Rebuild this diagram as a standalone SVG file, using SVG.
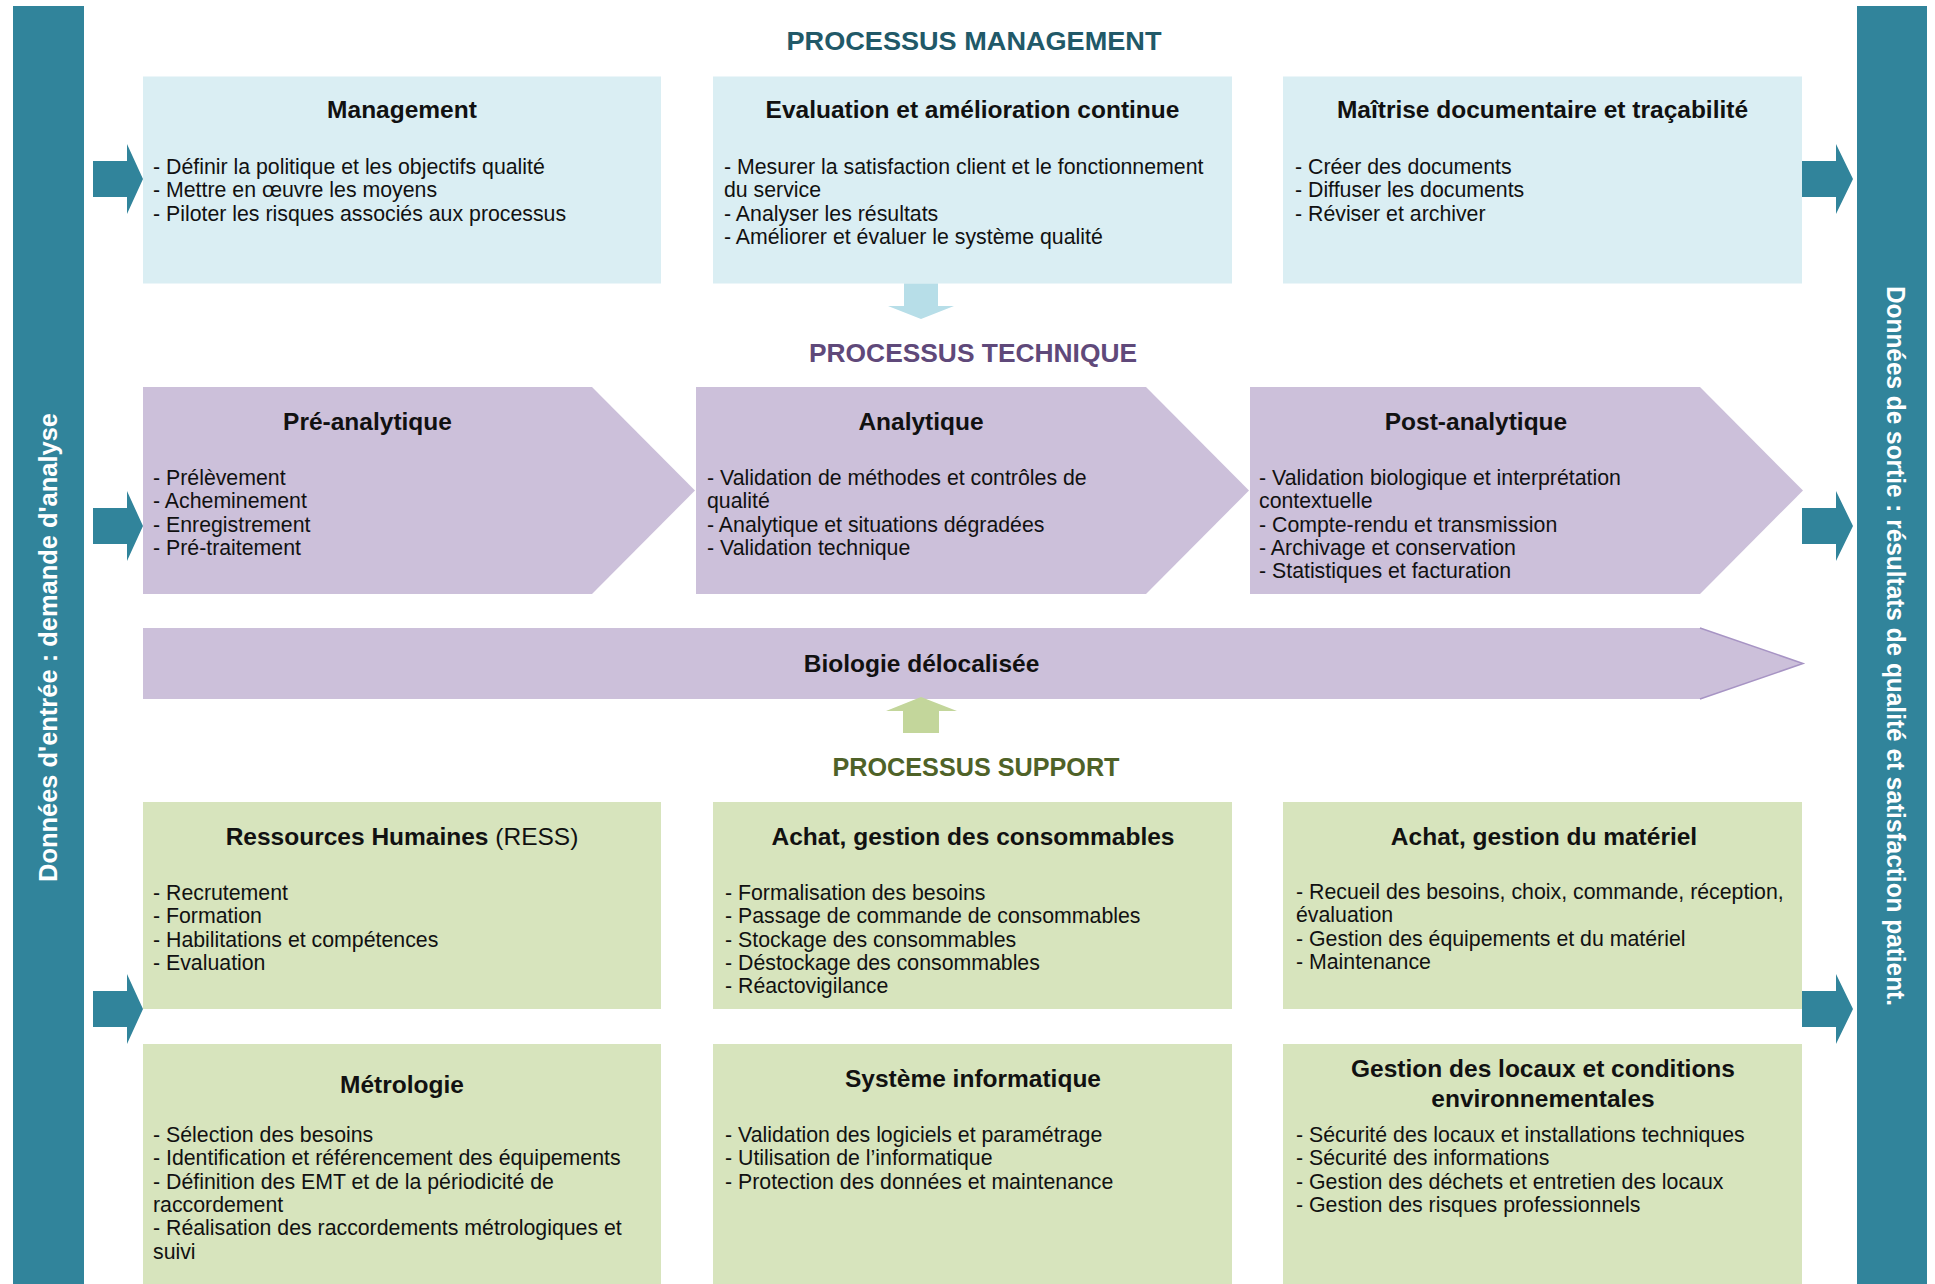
<svg xmlns="http://www.w3.org/2000/svg" width="1935" height="1284" viewBox="0 0 1935 1284">
  <style>
    text { font-family: "Liberation Sans", Arial, sans-serif; fill: #111; }
    .title { font-size: 26.5px; font-weight: bold; text-anchor: middle; }
    .head { font-size: 24.5px; font-weight: bold; text-anchor: middle; }
    .body { font-size: 21.3px; }
    .side { font-size: 25px; font-weight: bold; fill: #ffffff; text-anchor: middle; }
    .bar { fill: #31849B; }
    .mgmt { fill: #DAEEF3; }
    .tech { fill: #CCC0DA; }
    .supp { fill: #D7E4BD; }
    .io { fill: #31849B; }
  </style>

  <!-- Side bars: inputs and outputs -->
  <g id="input-bar">
    <rect class="bar" x="13" y="6" width="71" height="1278"/>
    <text class="side" transform="translate(57,647.5) rotate(-90)" textLength="469" lengthAdjust="spacingAndGlyphs">Données d'entrée : demande d'analyse</text>
  </g>
  <g id="output-bar">
    <rect class="bar" x="1857" y="6" width="70" height="1278"/>
    <text class="side" transform="translate(1887,646) rotate(90)" textLength="720" lengthAdjust="spacingAndGlyphs">Données de sortie : résultats de qualité et satisfaction patient.</text>
  </g>

  <!-- Section titles -->
  <g id="titles">
    <text class="title" x="974" y="50" style="fill:#215968" textLength="375" lengthAdjust="spacingAndGlyphs">PROCESSUS MANAGEMENT</text>
    <text class="title" x="973" y="362" style="fill:#5F497A" textLength="328" lengthAdjust="spacingAndGlyphs">PROCESSUS TECHNIQUE</text>
    <text class="title" x="976" y="776" style="fill:#4F6228" textLength="287" lengthAdjust="spacingAndGlyphs">PROCESSUS SUPPORT</text>
  </g>

  <!-- Management processes -->
  <g id="management">
    <rect class="mgmt" x="143" y="76.5" width="518" height="207"/>
    <text class="head" x="402" y="118">Management</text>
    <text class="body" x="153" y="174">- Définir la politique et les objectifs qualité<tspan x="153" dy="23.3">- Mettre en œuvre les moyens</tspan><tspan x="153" dy="23.3">- Piloter les risques associés aux processus</tspan></text>
  </g>
  <g id="evaluation">
    <rect class="mgmt" x="713" y="76.5" width="519" height="207"/>
    <text class="head" x="972.5" y="118">Evaluation et amélioration continue</text>
    <text class="body" x="724" y="174">- Mesurer la satisfaction client et le fonctionnement<tspan x="724" dy="23.3">du service</tspan><tspan x="724" dy="23.3">- Analyser les résultats</tspan><tspan x="724" dy="23.3">- Améliorer et évaluer le système qualité</tspan></text>
  </g>
  <g id="maitrise">
    <rect class="mgmt" x="1283" y="76.5" width="519" height="207"/>
    <text class="head" x="1542.5" y="118">Maîtrise documentaire et traçabilité</text>
    <text class="body" x="1295" y="174">- Créer des documents<tspan x="1295" dy="23.3">- Diffuser les documents</tspan><tspan x="1295" dy="23.3">- Réviser et archiver</tspan></text>
  </g>

  <!-- Technical processes -->
  <g id="pre-analytique">
    <polygon class="tech" points="143,387 592,387 695,490.5 592,594 143,594"/>
    <text class="head" x="367.5" y="430">Pré-analytique</text>
    <text class="body" x="153" y="485">- Prélèvement<tspan x="153" dy="23.3">- Acheminement</tspan><tspan x="153" dy="23.3">- Enregistrement</tspan><tspan x="153" dy="23.3">- Pré-traitement</tspan></text>
  </g>
  <g id="analytique">
    <polygon class="tech" points="696,387 1146,387 1249,490.5 1146,594 696,594"/>
    <text class="head" x="921" y="430">Analytique</text>
    <text class="body" x="707" y="485">- Validation de méthodes et contrôles de<tspan x="707" dy="23.3">qualité</tspan><tspan x="707" dy="23.3">- Analytique et situations dégradées</tspan><tspan x="707" dy="23.3">- Validation technique</tspan></text>
  </g>
  <g id="post-analytique">
    <polygon class="tech" points="1250,387 1700,387 1803,490.5 1700,594 1250,594"/>
    <text class="head" x="1476" y="430">Post-analytique</text>
    <text class="body" x="1259" y="485">- Validation biologique et interprétation<tspan x="1259" dy="23.3">contextuelle</tspan><tspan x="1259" dy="23.3">- Compte-rendu et transmission</tspan><tspan x="1259" dy="23.3">- Archivage et conservation</tspan><tspan x="1259" dy="23.3">- Statistiques et facturation</tspan></text>
  </g>
  <g id="biologie-delocalisee">
    <polygon class="tech" points="143,628 1700,628 1803,663.5 1700,699 143,699"/>
    <polyline points="1700,628 1803,663.5 1700,699" fill="none" stroke="#A794C4" stroke-width="1.5"/>
    <text class="head" x="921.5" y="672">Biologie délocalisée</text>
  </g>

  <!-- Support processes -->
  <g id="ressources-humaines">
    <rect class="supp" x="143" y="802" width="518" height="207"/>
    <text class="head" x="402" y="845">Ressources Humaines <tspan font-weight="normal">(RESS)</tspan></text>
    <text class="body" x="153" y="900">- Recrutement<tspan x="153" dy="23.3">- Formation</tspan><tspan x="153" dy="23.3">- Habilitations et compétences</tspan><tspan x="153" dy="23.3">- Evaluation</tspan></text>
  </g>
  <g id="consommables">
    <rect class="supp" x="713" y="802" width="519" height="207"/>
    <text class="head" x="973" y="845">Achat, gestion des consommables</text>
    <text class="body" x="725" y="900">- Formalisation des besoins<tspan x="725" dy="23.3">- Passage de commande de consommables</tspan><tspan x="725" dy="23.3">- Stockage des consommables</tspan><tspan x="725" dy="23.3">- Déstockage des consommables</tspan><tspan x="725" dy="23.3">- Réactovigilance</tspan></text>
  </g>
  <g id="materiel">
    <rect class="supp" x="1283" y="802" width="519" height="207"/>
    <text class="head" x="1544" y="845">Achat, gestion du matériel</text>
    <text class="body" x="1296" y="899">- Recueil des besoins, choix, commande, réception,<tspan x="1296" dy="23.3">évaluation</tspan><tspan x="1296" dy="23.3">- Gestion des équipements et du matériel</tspan><tspan x="1296" dy="23.3">- Maintenance</tspan></text>
  </g>
  <g id="metrologie">
    <rect class="supp" x="143" y="1044" width="518" height="240"/>
    <text class="head" x="402" y="1093">Métrologie</text>
    <text class="body" x="153" y="1142">- Sélection des besoins<tspan x="153" dy="23.3">- Identification et référencement des équipements</tspan><tspan x="153" dy="23.3">- Définition des EMT et de la périodicité de</tspan><tspan x="153" dy="23.3">raccordement</tspan><tspan x="153" dy="23.3">- Réalisation des raccordements métrologiques et</tspan><tspan x="153" dy="23.3">suivi</tspan></text>
  </g>
  <g id="systeme-informatique">
    <rect class="supp" x="713" y="1044" width="519" height="240"/>
    <text class="head" x="973" y="1087">Système informatique</text>
    <text class="body" x="725" y="1142">- Validation des logiciels et paramétrage<tspan x="725" dy="23.3">- Utilisation de l’informatique</tspan><tspan x="725" dy="23.3">- Protection des données et maintenance</tspan></text>
  </g>
  <g id="locaux">
    <rect class="supp" x="1283" y="1044" width="519" height="240"/>
    <text class="head" x="1543" y="1077">Gestion des locaux et conditions<tspan x="1543" dy="30">environnementales</tspan></text>
    <text class="body" x="1296" y="1142">- Sécurité des locaux et installations techniques<tspan x="1296" dy="23.3">- Sécurité des informations</tspan><tspan x="1296" dy="23.3">- Gestion des déchets et entretien des locaux</tspan><tspan x="1296" dy="23.3">- Gestion des risques professionnels</tspan></text>
  </g>

  <!-- Connectors: block arrows -->
  <g id="connectors">
    <!-- inputs -->
    <polygon class="io" points="93,161 127,161 127,144 143,179 127,214 127,197 93,197"/>
    <polygon class="io" points="93,508 127,508 127,491 143,526 127,561 127,544 93,544"/>
    <polygon class="io" points="93,991 127,991 127,974 143,1009 127,1044 127,1027 93,1027"/>
    <!-- outputs -->
    <polygon class="io" points="1802,161 1836,161 1836,144 1853,179 1836,214 1836,197 1802,197"/>
    <polygon class="io" points="1802,508 1836,508 1836,491 1853,526 1836,561 1836,544 1802,544"/>
    <polygon class="io" points="1802,991 1836,991 1836,974 1853,1009 1836,1044 1836,1027 1802,1027"/>
    <!-- management feeds technical -->
    <polygon fill="#B7DEE8" points="904,283.5 938,283.5 938,306 954,306 921,319 888,306 904,306"/>
    <!-- support feeds technical -->
    <polygon fill="#C3D69B" points="921,697 957,711 939,711 939,733 903,733 903,711 886,711"/>
  </g>
</svg>
